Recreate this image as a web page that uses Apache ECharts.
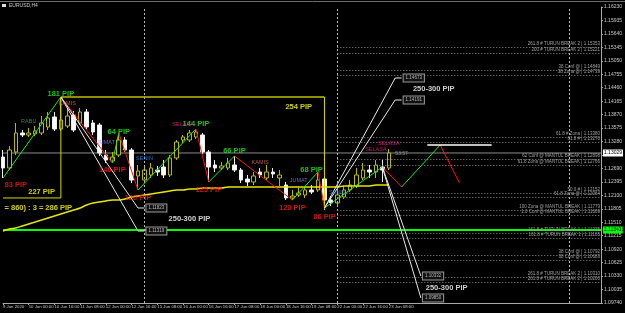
<!DOCTYPE html>
<html><head><meta charset="utf-8">
<script src="https://cdn.jsdelivr.net/npm/echarts@6.0.0/dist/echarts.min.js"></script>
<style>html,body{margin:0;padding:0;background:#000}#c{width:625px;height:313px}</style>
</head><body><div id="c"></div>
<script>
// ---- data ----
const tickLabels = ['9 Jun 2020','10 Jun 00:00','10 Jun 16:00','11 Jun 08:00','12 Jun 00:00','12 Jun 16:00','15 Jun 08:00','16 Jun 00:00','16 Jun 16:00','17 Jun 08:00','18 Jun 00:00','18 Jun 16:00','19 Jun 08:00','22 Jun 00:00','22 Jun 16:00','23 Jun 08:00'];
const openP = [
1.12941,1.12700,1.13051,1.13468,1.13424,1.13446,1.13468,1.13599,1.13818,1.13555,
1.13621,1.13862,1.13687,1.13928,1.13687,1.13643,1.12985,1.12854,1.12985,1.13314,
1.13095,1.12525,1.12437,1.12547,1.12656,1.12722,1.12547,1.12919,1.13314,1.13314,
1.13380,1.13424,1.13051,1.12766,1.12700,1.12700,1.12766,1.12656,1.12459,1.12393,
1.12612,1.12481,1.12612,1.12481,1.12327,1.12043,1.12108,1.12108,1.12218,1.12218,
1.12459,1.11999,1.11933,1.12064,1.12218,1.12306,1.12481,1.12656,1.12612,1.12722,
1.12700];
const closeP = [
1.12700,1.13095,1.13468,1.13424,1.13468,1.13512,1.13687,1.13797,1.13555,1.13753,
1.13840,1.13533,1.13928,1.13599,1.13490,1.13029,1.12876,1.12941,1.13314,1.13095,
1.12437,1.12634,1.12656,1.12700,1.12612,1.12547,1.12919,1.13270,1.13380,1.13468,
1.13490,1.13051,1.12722,1.12700,1.12744,1.12810,1.12656,1.12437,1.12393,1.12525,
1.12547,1.12612,1.12569,1.12547,1.12043,1.12086,1.12152,1.12218,1.12174,1.12437,
1.11999,1.11933,1.12108,1.12218,1.12327,1.12547,1.12656,1.12612,1.12766,1.12656,
1.13029];
const lowP = [
1.12481,1.12656,1.12985,1.13380,1.13380,1.13402,1.13424,1.13533,1.13512,1.13512,
1.13577,1.13490,1.13643,1.13555,1.13424,1.12963,1.12810,1.12810,1.12941,1.13051,
1.12371,1.12218,1.12393,1.12481,1.12525,1.12481,1.12503,1.12876,1.13248,1.13270,
1.13336,1.13007,1.12393,1.12612,1.12656,1.12656,1.12612,1.12371,1.12306,1.12327,
1.12481,1.12437,1.12481,1.12306,1.11999,1.11999,1.12064,1.12043,1.12130,1.12174,
1.11823,1.11867,1.11867,1.12021,1.12174,1.12262,1.12437,1.12481,1.12481,1.12393,
1.12656];
const highP = [
1.13095,1.13183,1.13687,1.13533,1.13577,1.13621,1.13840,1.13928,1.13928,1.14257,
1.14016,1.13950,1.14016,1.13994,1.13753,1.13687,1.13095,1.13051,1.13468,1.13380,
1.13139,1.12766,1.12766,1.12810,1.12744,1.12876,1.12985,1.13314,1.13424,1.13533,
1.13555,1.13468,1.13095,1.12876,1.12832,1.12919,1.12963,1.12700,1.12547,1.12612,
1.12700,1.12766,1.12700,1.12656,1.12393,1.12218,1.12262,1.12306,1.12327,1.12612,
1.12525,1.12086,1.12218,1.12306,1.12437,1.12700,1.12810,1.12766,1.12876,1.12876,
1.13117];
const maP = [
1.11319,1.11363,1.11385,1.11429,1.11473,1.11516,1.11560,1.11604,1.11648,1.11692,
1.11736,1.11779,1.11823,1.11889,1.11933,1.11955,1.11977,1.11999,1.11999,1.12021,
1.12064,1.12086,1.12108,1.12130,1.12152,1.12174,1.12196,1.12218,1.12218,1.12240,
1.12240,1.12262,1.12262,1.12262,1.12262,1.12284,1.12284,1.12284,1.12284,1.12284,
1.12284,1.12284,1.12284,1.12284,1.12284,1.12284,1.12284,1.12284,1.12284,1.12284,
1.12284,1.12284,1.12284,1.12306,1.12306,1.12306,1.12306,1.12306,1.12327,1.12327,
1.12327];
const zigIdx = [0,9,17,18,21,30,32,36,45,49,50,59,62,68,71];
const zigP = [1.12481,1.14257,1.12810,1.13468,1.12218,1.13555,1.12393,1.12963,1.11999,1.12612,1.11823,1.12722,1.12284,1.13205,1.12371];
const currentPrice = 1.13029;
const greenLevel = 1.11341;
const levelPrices = [1.15353,1.15221,1.14849,1.14739,1.13380,1.13270,1.12898,1.12766,1.12152,1.12064,1.11779,1.11669,1.11275,1.11165,1.10792,1.10683,1.10310,1.10200];
const levelNames = ['261.8 # TURUN BREAK 2','200 # TURUN BREAK 2','38 Conf @','38 Zona @','61.8 # Zona','61.8 #','62 Conf @ MANTUL BREAK','61.8 Zona @ MANTUL BREAK','50.0 #','61.8 Zona @','100 Zona @ MANTUL BREAK','1.0 Conf @ MANTUL BREAK','161.8 # TURUN BREAK 1','161.8 # TURUN BREAK 1','38 Conf @','38 Conf @','261.8 # TURUN BREAK 2','261.8 # TURUN BREAK 2'];
const weekStarts = [22, 52, 88];
const boxHigh = 1.14257, boxLeftLow = 1.12043, boxRightLow = 1.11779;
const fanLeft = {from:[9,1.14257], to:[21,22], targets:[1.11823,1.11319]};
const fanUp = {from:[50,1.11823], to:[61,62], targets:[1.14673,1.14191]};
const fanDown = {from:[59,1.12722], to:[65,65], targets:[1.10332,1.09850]};
const projTop = [[66,1.13205],[76,1.13205]];
const greenNotes = [[9,1.14323,'181 PIP'],[18,1.13490,'64 PIP'],[30,1.13665,'144 PIP'],[36,1.13073,'66 PIP'],[48,1.12656,'68 PIP']];
const redNotes = [[0,1.12327,'83 PIP'],[17,1.12656,'146 PIP'],[21,1.12043,'120 PIP'],[32,1.12218,'125 PIP'],[45,1.11823,'120 PIP'],[50,1.11626,'86 PIP']];
const yellowNotes = [[46,1.14038,'254 PIP'],[6,1.12174,'227 PIP'],[0,1.11823,'= 860) : 3 = 286 PIP']];
const whiteNotes = [[29,1.11582,'250-300 PIP'],[67,1.14432,'250-300 PIP'],[69,1.10069,'250-300 PIP']];
const dayNotes = [[4,1.13709,'RABU'],[10,1.14125,'KAMIS'],[16,1.13270,'JUMAT'],[22,1.12898,'SENIN'],[28,1.13665,'SELASA'],[40,1.12810,'KAMIS'],[46,1.12437,'JUMAT'],[52,1.12174,'SENIN'],[58,1.13095,'SELASA'],[60,1.13248,'SELASA']];
const timerNote = [62,1.13007,'53:57'];

// ---- chart ----
const F = '"Liberation Sans", Arial, sans-serif';
const N = 94;
const cats = Array.from({length:N}, (_, i) => String(i));
const showTick = (i) => i % 4 === 0 && i <= 60;
const dayColor = {RABU:'#5ba05b', KAMIS:'#e8705c', JUMAT:'#8a7ae6', SENIN:'#2f8ef0', SELASA:'#f0208c'};
const series = [];

const mlData = [];
weekStarts.forEach(w => mlData.push({xAxis: w, lineStyle:{type:[2,2], color:'#b8b8b8', width:1}, label:{show:false}}));
levelPrices.forEach((p, k) => mlData.push([
  {coord:[52, p], lineStyle:{type:[1,2], color:'#8a8a8a', width:1},
   label:{show:true, position:'insideEndTop', distance:1, formatter: levelNames[k] + ' | ' + p.toFixed(5), color:'#a0a0a0', fontSize:4.5, fontFamily:F}},
  {coord:[93, p]}
]));

series.push({
  type:'candlestick', z:3, barWidth:4,
  data: openP.map((o, i) => [o, closeP[i], lowP[i], highP[i]]),
  itemStyle:{color:'#000000', color0:'#ffffff', borderColor:'#b8b800', borderColor0:'#eeeeee', borderWidth:1},
  markLine:{silent:true, symbol:['none','none'], animation:false, data: mlData}
});

// current price and green level as full-width lines with price boxes
function priceLine(p, color, width, boxBg) {
  return {type:'line', z:2, showSymbol:false, data:[[0,p],[93,p]], lineStyle:{color, width},
    endLabel:{show:true, distance:2, formatter: p.toFixed(5), backgroundColor: boxBg, color:'#000', fontSize:5, fontFamily:F, padding:[1,1]}};
}
series.push(priceLine(currentPrice, '#8c8c8c', 1, '#ffffff'));
series.push(priceLine(greenLevel, '#00ff00', 2, '#00ff00'));

series.push({type:'line', z:4, data: maP.map((v, i) => [i, v]), smooth:0.3, showSymbol:false, lineStyle:{color:'#e6e600', width:1.5}});

for (let k = 0; k < zigIdx.length - 1; k++) {
  const up = zigP[k+1] > zigP[k];
  series.push({type:'line', z:5, showSymbol:false, data:[[zigIdx[k], zigP[k]],[zigIdx[k+1], zigP[k+1]]],
    lineStyle:{color: up ? '#19e619' : '#ff1010', width:1}});
}

// box lines
series.push({type:'line', z:4, showSymbol:false, data:[[9,boxHigh],[50,boxHigh]], lineStyle:{color:'#8e8e00', width:2}});
series.push({type:'line', z:4, showSymbol:false, data:[[0,boxLeftLow],[9,boxLeftLow],[9,boxHigh]], lineStyle:{color:'#d6d600', width:1}});
series.push({type:'line', z:4, showSymbol:false, data:[[50,boxHigh],[50,boxRightLow]], lineStyle:{color:'#d6d600', width:1}});

// fan lines with price boxes
[fanLeft, fanUp, fanDown].forEach(f => {
  f.targets.forEach(t => {
    const pts = [f.from, [f.to[0], t]];
    if (f.to[1] !== f.to[0]) pts.push([f.to[1], t]);
    series.push({type:'line', z:6, showSymbol:false, data: pts, lineStyle:{color:'#e8e8e8', width:1},
      endLabel:{show:true, distance:2, formatter: t.toFixed(5), color:'#b8b8b8', fontSize:4.5, fontFamily:F,
        borderColor:'#9a9a9a', borderWidth:1, backgroundColor:'#111', padding:[1,2]}});
  });
});
series.push({type:'line', z:6, showSymbol:false, data: projTop, lineStyle:{color:'#ffffff', width:1.5}});

function notes(arr, color, size, bold) {
  return {
    type:'scatter', z:10, silent:true, symbolSize:1, itemStyle:{color:'rgba(0,0,0,0)'},
    data: arr.map(a => ({value:[a[0], a[1]], name:a[2],
      label: a[0] === 0 ? {position:'right', distance:1, align:'left'} : {}})),
    label:{show:true, position:'inside', fontSize:size, fontWeight: bold ? 'bold' : 'normal', fontFamily:F,
      color: color, formatter: p => p.name}
  };
}
series.push(notes(greenNotes, '#22ee22', 7.5, true));
series.push(notes(redNotes, '#ff1a1a', 7.5, true));
series.push(notes(yellowNotes, '#ffff00', 7.5, true));
series.push(notes(whiteNotes, '#ffffff', 7.5, true));
const dn = notes(dayNotes, '#fff', 5.5, false);
dn.data.forEach(d => { d.label = Object.assign({}, d.label, {color: dayColor[d.name]}); });
series.push(dn);
series.push(notes([timerNote], '#b0b0b0', 5, false));

const option = {
  backgroundColor:'#000000',
  animation:false,
  grid:{left:0, right:19, top:7, bottom:10},
  xAxis:{type:'category', data:cats, boundaryGap:false,
    axisLine:{lineStyle:{color:'#a8a8a8'}},
    axisTick:{show:true, length:2, interval:(i)=>showTick(i), lineStyle:{color:'#a8a8a8'}},
    axisLabel:{interval:(i)=>showTick(i), formatter:(v, i)=> tickLabels[i/4] || '', align:'left', fontSize:4.3, color:'#c8c8c8', margin:2, fontFamily:F},
    splitLine:{show:false}},
  yAxis:{type:'value', position:'right', min:1.0974, max:1.1623, interval:0.00295,
    axisLine:{show:true, lineStyle:{color:'#a8a8a8'}},
    axisTick:{show:true, length:2, lineStyle:{color:'#a8a8a8'}},
    axisLabel:{color:'#c8c8c8', fontSize:5, margin:3, fontFamily:F, formatter:(v)=>v.toFixed(5)},
    splitLine:{show:false}},
  graphic:[
    {type:'line', shape:{x1:0, y1:1.5, x2:625, y2:1.5}, style:{stroke:'#6e6e6e', lineWidth:1}},
    {type:'rect', shape:{x:2, y:4, width:4, height:3}, style:{fill:'#dddddd'}},
    {type:'text', left:9, top:3, style:{text:'EURUSD,H4', fill:'#c8c8c8', font:'5px "Liberation Sans", Arial'}}
  ],
  series
};
const chart = echarts.init(document.getElementById('c'));
chart.setOption(option);
</script>
</body></html>
